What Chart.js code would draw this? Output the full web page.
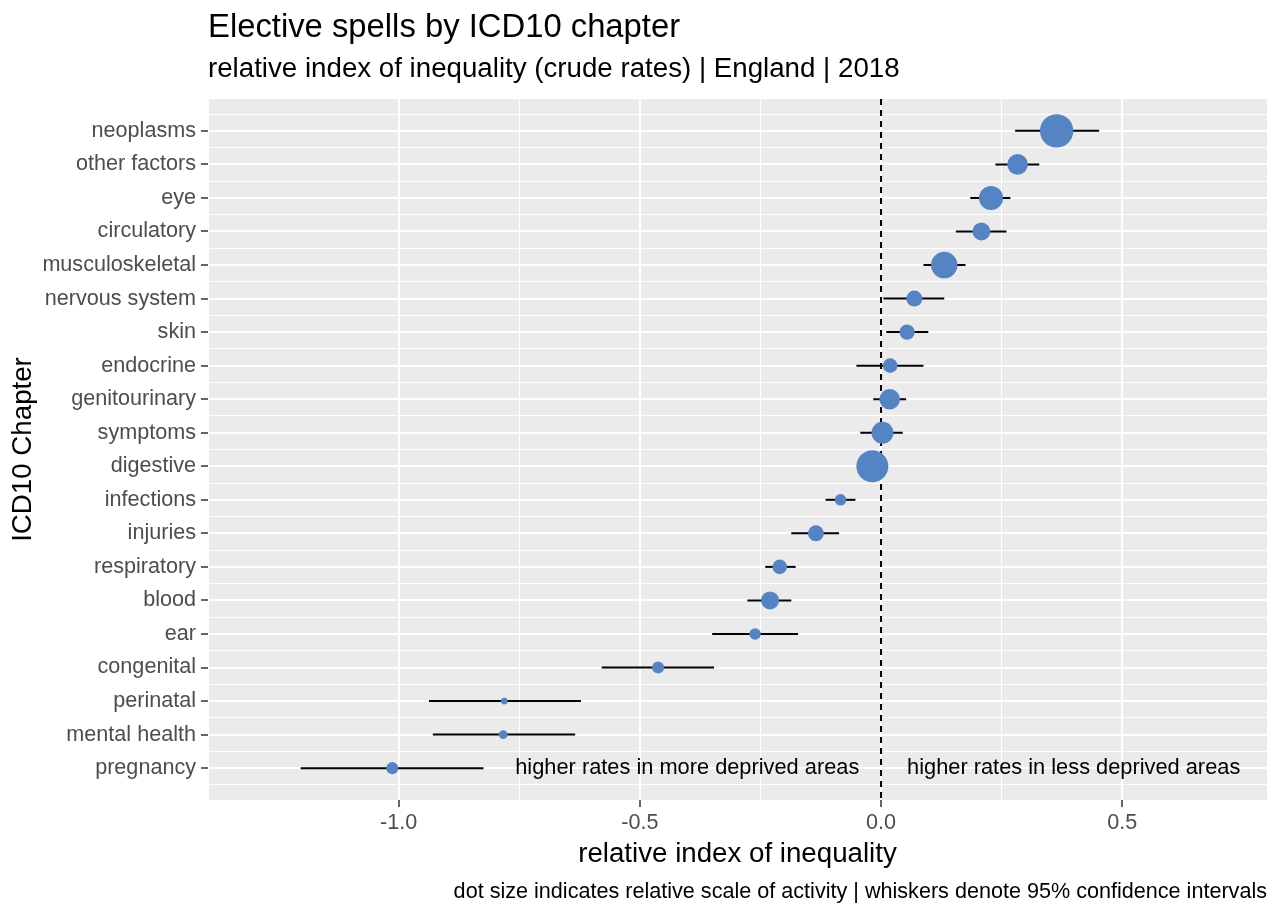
<!DOCTYPE html>
<html>
<head>
<meta charset="utf-8">
<title>Elective spells by ICD10 chapter</title>
<script src="https://cdn.jsdelivr.net/npm/chart.js@4.4.1/dist/chart.umd.min.js"></script>
<style>
  html, body { margin: 0; padding: 0; background: #ffffff; }
  #wrap { width: 1279px; height: 904px; position: relative; }
</style>
</head>
<body>
<div id="wrap"><canvas id="riiChart"></canvas></div>
<script>
// ICD10 chapters, top to bottom
var chapters = ['neoplasms', 'other factors', 'eye', 'circulatory', 'musculoskeletal',
  'nervous system', 'skin', 'endocrine', 'genitourinary', 'symptoms', 'digestive',
  'infections', 'injuries', 'respiratory', 'blood', 'ear', 'congenital', 'perinatal',
  'mental health', 'pregnancy'];

// relative index of inequality and 95% confidence limits
var rii     = [0.364, 0.283, 0.228, 0.208, 0.131, 0.069, 0.054, 0.019, 0.018, 0.003,
  -0.018, -0.084, -0.135, -0.210, -0.230, -0.261, -0.462, -0.781, -0.783, -1.013];
var ciLower = [0.278, 0.237, 0.185, 0.155, 0.088, 0.005, 0.011, -0.051, -0.016, -0.043,
  -0.035, -0.115, -0.186, -0.240, -0.277, -0.350, -0.579, -0.937, -0.929, -1.203];
var ciUpper = [0.452, 0.328, 0.268, 0.260, 0.175, 0.131, 0.098, 0.088, 0.052, 0.045,
  0.000, -0.053, -0.087, -0.177, -0.186, -0.172, -0.346, -0.622, -0.634, -0.824];

// relative scale of activity (largest = 100)
var activity = [100, 38, 52, 29, 63, 23, 21, 19, 38, 43, 92, 12, 23, 19, 29, 12, 13, 4, 7, 13];

var FONT = '"Liberation Sans", Arial, sans-serif';
var DOT = '#5584c5';

function isWhole(v) { return Math.abs(v - Math.round(v)) < 1e-9; }
function dotRadius(a) { return 16.7 * Math.sqrt(a / 100); }

// grey ggplot panel
var panelPlugin = {
  id: 'panel',
  beforeDraw: function(chart) {
    var a = chart.chartArea, ctx = chart.ctx;
    ctx.save();
    ctx.fillStyle = '#ebebeb';
    ctx.fillRect(a.left, a.top, a.right - a.left, a.bottom - a.top);
    ctx.restore();
  }
};

// titles, axis titles, caption and the two notes
var textPlugin = {
  id: 'texts',
  afterDraw: function(chart) {
    var a = chart.chartArea, ctx = chart.ctx;
    var xs = chart.scales.x, ys = chart.scales.y;
    ctx.save();
    ctx.fillStyle = '#000000';
    ctx.textBaseline = 'alphabetic';

    ctx.textAlign = 'left';
    ctx.font = '32.8px ' + FONT;
    ctx.fillText('Elective spells by ICD10 chapter', a.left, 37);
    ctx.font = '27.7px ' + FONT;
    ctx.fillText('relative index of inequality (crude rates) | England | 2018', a.left, 77);

    ctx.textAlign = 'center';
    ctx.fillText('relative index of inequality', (a.left + a.right) / 2, 862);

    ctx.save();
    ctx.translate(31, (a.top + a.bottom) / 2);
    ctx.rotate(-Math.PI / 2);
    ctx.fillText('ICD10 Chapter', 0, 0);
    ctx.restore();

    ctx.textAlign = 'right';
    ctx.font = '21.6px ' + FONT;
    ctx.fillText('dot size indicates relative scale of activity | whiskers denote 95% confidence intervals', a.right, 898);

    var yNote = ys.getPixelForValue(chapters.length);
    ctx.font = '21.8px ' + FONT;
    ctx.textBaseline = 'middle';
    ctx.fillText('higher rates in more deprived areas', xs.getPixelForValue(-0.045), yNote);
    ctx.textAlign = 'left';
    ctx.fillText('higher rates in less deprived areas', xs.getPixelForValue(0.054), yNote);
    ctx.restore();
  }
};

var whiskers = chapters.map(function(c, i) {
  return {
    type: 'line',
    label: c,
    data: [{x: ciLower[i], y: i + 1}, {x: ciUpper[i], y: i + 1}],
    borderColor: '#000000',
    borderWidth: 2,
    pointRadius: 0,
    order: 2
  };
});

var zeroLine = {
  type: 'line',
  label: 'zero',
  data: [{x: 0, y: 0.05}, {x: 0, y: chapters.length + 0.95}],
  borderColor: '#000000',
  borderWidth: 2,
  borderDash: [6, 5],
  pointRadius: 0,
  order: 1
};

var dots = {
  type: 'scatter',
  label: 'RII',
  data: chapters.map(function(c, i) { return {x: rii[i], y: i + 1}; }),
  backgroundColor: DOT,
  borderWidth: 0,
  pointRadius: function(ctx) { return dotRadius(activity[ctx.dataIndex]); },
  order: 0
};

var ctx = document.getElementById('riiChart').getContext('2d');
var chart = new Chart(ctx, {
  type: 'scatter',
  data: { datasets: [dots, zeroLine].concat(whiskers) },
  plugins: [panelPlugin, textPlugin],
  options: {
    responsive: true,
    maintainAspectRatio: false,
    animation: false,
    events: [],
    layout: { autoPadding: false, padding: { left: 0, right: 12, top: 99, bottom: 54 } },
    plugins: {
      legend: { display: false },
      tooltip: { enabled: false },
      title: { display: false }
    },
    scales: {
      x: {
        type: 'linear',
        min: -1.395,
        max: 0.80,
        afterFit: function(scale) {
          scale.height = 50;
          scale.paddingLeft = 0;
          scale.paddingRight = 0;
        },
        border: { display: false },
        grid: {
          color: '#ffffff',
          lineWidth: function(c) { return isWhole(c.tick.value * 2) ? 2 : 1; },
          tickColor: function(c) { return isWhole(c.tick.value * 2) ? '#333333' : 'rgba(0,0,0,0)'; },
          tickLength: 7,
          tickWidth: 1.5
        },
        ticks: {
          stepSize: 0.25,
          autoSkip: false,
          maxRotation: 0,
          padding: 3,
          color: '#4d4d4d',
          font: { family: FONT, size: 21.6 },
          callback: function(v) { return isWhole(v * 2) ? v.toFixed(1) : ''; }
        }
      },
      y: {
        type: 'linear',
        reverse: true,
        min: 0.05,
        max: chapters.length + 0.95,
        afterFit: function(scale) { scale.width = 208; },
        border: { display: false },
        grid: {
          color: '#ffffff',
          lineWidth: function(c) { return isWhole(c.tick.value) ? 2 : 1; },
          tickColor: function(c) { return isWhole(c.tick.value) ? '#333333' : 'rgba(0,0,0,0)'; },
          tickLength: 7,
          tickWidth: 1.5
        },
        ticks: {
          stepSize: 0.5,
          includeBounds: false,
          autoSkip: false,
          padding: 5,
          color: '#4d4d4d',
          font: { family: FONT, size: 21.6 },
          callback: function(v) { return isWhole(v) ? chapters[Math.round(v) - 1] : ''; }
        }
      }
    }
  }
});
</script>
</body>
</html>
